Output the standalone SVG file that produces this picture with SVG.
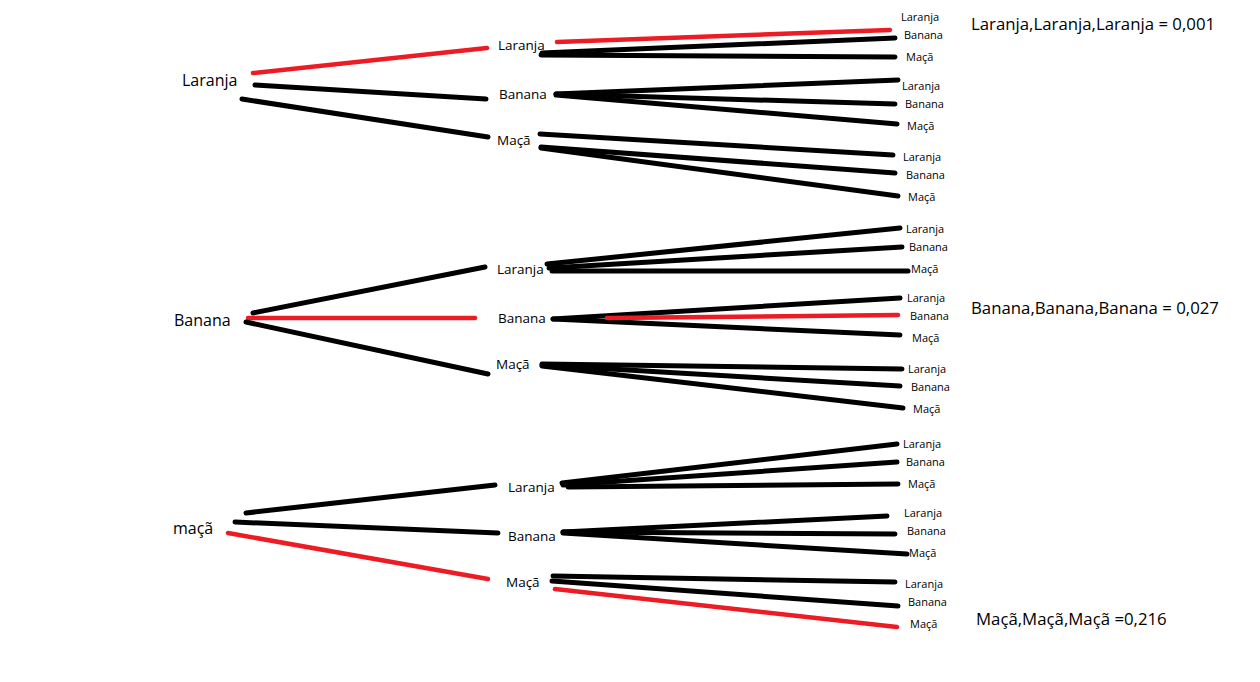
<svg xmlns="http://www.w3.org/2000/svg" width="1260" height="682" viewBox="0 0 1260 682">
<style>
text{font-family:"Open Sans","Noto Sans","Liberation Sans",sans-serif;fill:#000}
.root{font-size:16px}
.mid{font-size:13.5px}
.leaf{font-size:11px}
.res{font-size:16.8px}
line{stroke-linecap:round;fill:none}
.k{stroke:#000;stroke-width:5}
.r{stroke:#ed1c24;stroke-width:4.5}
</style>
<rect width="1260" height="682" fill="#fff"/>
<g id="connectors">
<line class="r" x1="253" y1="73" x2="487" y2="48"/>
<line class="k" x1="255" y1="85" x2="486" y2="99"/>
<line class="k" x1="242" y1="99" x2="488" y2="137"/>
<line class="r" x1="557" y1="42" x2="890" y2="30"/>
<line class="k" x1="542" y1="53" x2="895" y2="38"/>
<line class="k" x1="541" y1="55" x2="895" y2="57"/>
<line class="k" x1="556" y1="94" x2="898" y2="80"/>
<line class="k" x1="556" y1="94" x2="895" y2="104"/>
<line class="k" x1="556" y1="95" x2="897" y2="124"/>
<line class="k" x1="540" y1="134" x2="893" y2="155"/>
<line class="k" x1="541" y1="147" x2="895" y2="173"/>
<line class="k" x1="541" y1="148" x2="898" y2="196"/>
<line class="k" x1="253" y1="313" x2="485" y2="267"/>
<line class="r" x1="248" y1="318" x2="475" y2="318"/>
<line class="k" x1="246" y1="322" x2="488" y2="374"/>
<line class="k" x1="547" y1="264" x2="900" y2="228"/>
<line class="k" x1="549" y1="268" x2="902" y2="247"/>
<line class="k" x1="552" y1="271" x2="908" y2="271"/>
<line class="k" x1="553" y1="319" x2="900" y2="298"/>
<line class="k" x1="553" y1="319" x2="900" y2="335"/>
<line class="r" x1="607" y1="318" x2="898" y2="315"/>
<line class="k" x1="542" y1="364" x2="902" y2="369"/>
<line class="k" x1="542" y1="365" x2="900" y2="386"/>
<line class="k" x1="542" y1="366" x2="903" y2="408"/>
<line class="k" x1="246" y1="513" x2="495" y2="485"/>
<line class="k" x1="235" y1="522" x2="498" y2="533"/>
<line class="r" x1="228" y1="533" x2="488" y2="579"/>
<line class="k" x1="562" y1="483" x2="897" y2="444"/>
<line class="k" x1="563" y1="485" x2="897" y2="462"/>
<line class="k" x1="568" y1="487" x2="898" y2="484"/>
<line class="k" x1="563" y1="532" x2="887" y2="516"/>
<line class="k" x1="563" y1="532" x2="895" y2="534"/>
<line class="k" x1="563" y1="533" x2="907" y2="554"/>
<line class="k" x1="553" y1="576" x2="895" y2="582"/>
<line class="k" x1="552" y1="581" x2="898" y2="606"/>
<line class="r" x1="555" y1="589" x2="897" y2="627"/>
</g>
<g id="root-laranja"><text class="root" x="182" y="86">Laranja</text></g>
<g id="root-banana"><text class="root" x="174" y="326">Banana</text></g>
<g id="root-maca"><text class="root" x="173" y="534">maçã</text></g>
<g id="mid-1-laranja"><text class="mid" x="498" y="50">Laranja</text></g>
<g id="mid-1-banana"><text class="mid" x="499" y="99">Banana</text></g>
<g id="mid-1-maca"><text class="mid" x="497" y="145">Maçã</text></g>
<g id="mid-2-laranja"><text class="mid" x="497" y="274">Laranja</text></g>
<g id="mid-2-banana"><text class="mid" x="498" y="323">Banana</text></g>
<g id="mid-2-maca"><text class="mid" x="496" y="369">Maçã</text></g>
<g id="mid-3-laranja"><text class="mid" x="508" y="492">Laranja</text></g>
<g id="mid-3-banana"><text class="mid" x="508" y="541">Banana</text></g>
<g id="mid-3-maca"><text class="mid" x="506" y="587">Maçã</text></g>
<g id="leaves-1">
<text class="leaf" x="901" y="21">Laranja</text>
<text class="leaf" x="904" y="39">Banana</text>
<text class="leaf" x="906" y="61">Maçã</text>
<text class="leaf" x="902" y="90">Laranja</text>
<text class="leaf" x="905" y="108">Banana</text>
<text class="leaf" x="907" y="130">Maçã</text>
<text class="leaf" x="903" y="161">Laranja</text>
<text class="leaf" x="906" y="179">Banana</text>
<text class="leaf" x="908" y="201">Maçã</text>
</g>
<g id="leaves-2">
<text class="leaf" x="906" y="233">Laranja</text>
<text class="leaf" x="909" y="251">Banana</text>
<text class="leaf" x="911" y="273">Maçã</text>
<text class="leaf" x="907" y="302">Laranja</text>
<text class="leaf" x="910" y="320">Banana</text>
<text class="leaf" x="912" y="342">Maçã</text>
<text class="leaf" x="908" y="373">Laranja</text>
<text class="leaf" x="911" y="391">Banana</text>
<text class="leaf" x="913" y="413">Maçã</text>
</g>
<g id="leaves-3">
<text class="leaf" x="903" y="448">Laranja</text>
<text class="leaf" x="906" y="466">Banana</text>
<text class="leaf" x="908" y="488">Maçã</text>
<text class="leaf" x="904" y="517">Laranja</text>
<text class="leaf" x="907" y="535">Banana</text>
<text class="leaf" x="909" y="557">Maçã</text>
<text class="leaf" x="905" y="588">Laranja</text>
<text class="leaf" x="908" y="606">Banana</text>
<text class="leaf" x="910" y="628">Maçã</text>
</g>
<g id="result-laranja"><text class="res" x="971" y="30">Laranja,Laranja,Laranja = 0,001</text></g>
<g id="result-banana"><text class="res" x="971" y="314">Banana,Banana,Banana = 0,027</text></g>
<g id="result-maca"><text class="res" x="976" y="625">Maçã,Maçã,Maçã =0,216</text></g>
</svg>
